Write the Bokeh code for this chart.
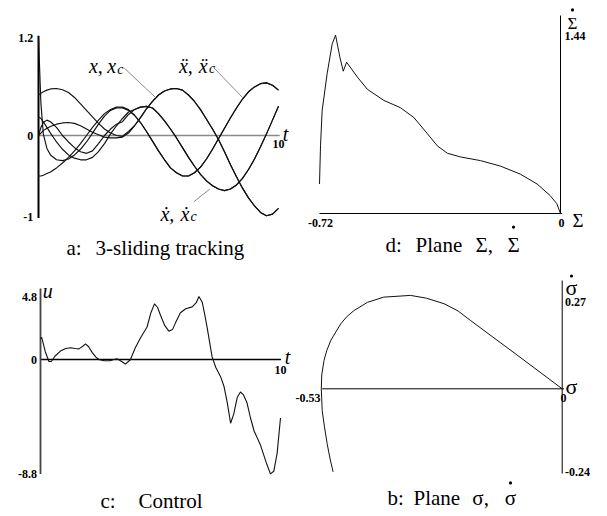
from bokeh.plotting import figure
from bokeh.models import Range1d
from bokeh.core.properties import value
from bokeh.embed import file_html
from bokeh.resources import INLINE

# ---------------- data ----------------
# panel a: 3-sliding tracking
t_a = [0, 0.1, 0.2, 0.35, 0.5, 0.75, 1.0, 1.25, 1.5, 1.75, 2.0, 2.25, 2.5, 2.75, 3.0, 3.25,
       3.5, 3.75, 4.0, 4.25, 4.5, 4.75, 5.0, 5.25, 5.5, 5.75, 6.0, 6.25, 6.5, 6.75, 7.0,
       7.25, 7.5, 7.75, 8.0, 8.25, 8.5, 8.75, 9.0, 9.25, 9.5, 9.75, 10.0]
x_c = [0.50, 0.52, 0.54, 0.56, 0.575, 0.58, 0.565, 0.53, 0.47, 0.39, 0.31, 0.23, 0.15, 0.08, 0.03, 0.00,
       -0.01, 0.05, 0.12, 0.22, 0.33, 0.42, 0.50, 0.55, 0.575, 0.58, 0.56, 0.50, 0.42, 0.32, 0.20,
       0.08, -0.05, -0.20, -0.36, -0.51, -0.65, -0.77, -0.87, -0.95, -0.99, -0.97, -0.90]
x_act = [0.00, 0.03, 0.06, 0.09, 0.11, 0.14, 0.155, 0.16, 0.15, 0.12, 0.08, 0.04, 0.01, -0.02, -0.03, -0.03,
         -0.02, 0.03, 0.12, 0.22, 0.33, 0.42, 0.50, 0.55, 0.575, 0.58, 0.56, 0.50, 0.42, 0.32, 0.20,
         0.08, -0.05, -0.20, -0.36, -0.51, -0.65, -0.77, -0.87, -0.95, -0.99, -0.97, -0.90]
xd_c = [0.23, 0.21, 0.17, 0.10, 0.03, -0.08, -0.17, -0.24, -0.28, -0.30, -0.30, -0.27, -0.20, -0.10, 0.02, 0.12,
        0.21, 0.29, 0.32, 0.35, 0.36, 0.34, 0.27, 0.18, 0.08, -0.03, -0.15, -0.27, -0.38, -0.48, -0.56,
        -0.62, -0.66, -0.68, -0.66, -0.61, -0.53, -0.42, -0.29, -0.14, 0.02, 0.19, 0.36]
xd_act = [0.00, 0.10, 0.16, 0.19, 0.17, 0.10, 0.00, -0.08, -0.15, -0.20, -0.22, -0.19, -0.10, 0.00, 0.08, 0.14,
          0.17, 0.26, 0.32, 0.35, 0.36, 0.34, 0.27, 0.18, 0.08, -0.03, -0.15, -0.27, -0.38, -0.48, -0.56,
          -0.62, -0.66, -0.68, -0.66, -0.61, -0.53, -0.42, -0.29, -0.14, 0.02, 0.19, 0.36]
xdd_c = [-0.50, -0.50, -0.49, -0.47, -0.45, -0.40, -0.34, -0.27, -0.19, -0.10, 0.00, 0.10, 0.19, 0.27, 0.32, 0.35,
         0.35, 0.32, 0.25, 0.16, 0.05, -0.07, -0.19, -0.30, -0.40, -0.46, -0.50, -0.50, -0.46, -0.39, -0.29,
         -0.17, -0.04, 0.09, 0.22, 0.34, 0.45, 0.54, 0.60, 0.64, 0.65, 0.62, 0.56]
xdd_act = [1.20, 0.40, 0.02, -0.16, -0.24, -0.30, -0.31, -0.29, -0.24, -0.17, -0.08, 0.03, 0.14, 0.24, 0.31, 0.34,
           0.34, 0.31, 0.25, 0.16, 0.05, -0.07, -0.19, -0.30, -0.40, -0.46, -0.50, -0.50, -0.46, -0.39, -0.29,
           -0.17, -0.04, 0.09, 0.22, 0.34, 0.45, 0.54, 0.60, 0.64, 0.65, 0.62, 0.56]
a_yticks = [1.2, 0, -1]
a_ylabels = ["1.2", "0", "-1"]
a_tmax = 10

# panel d: plane Sigma, Sigma-dot
sig_d = [-0.72, -0.717, -0.712, -0.697, -0.682, -0.672, -0.659, -0.649, -0.639, -0.607, -0.577, -0.528,
         -0.478, -0.438, -0.398, -0.368, -0.338, -0.299, -0.239, -0.179, -0.12, -0.07, -0.031, -0.011, 0.0]
sigdot_d = [0.24, 0.55, 0.84, 1.14, 1.38, 1.45, 1.27, 1.157, 1.23, 1.11, 1.01, 0.92,
            0.86, 0.78, 0.65, 0.55, 0.49, 0.46, 0.43, 0.385, 0.32, 0.24, 0.146, 0.08, 0.0]
d_xticks = [-0.72, 0]
d_xlabels = ["-0.72", "0"]
d_ytick = 1.44

# panel c: control
t_u = [0, 0.05, 0.2, 0.35, 0.45, 0.6, 0.83, 1.05, 1.25, 1.45,
       1.6, 1.75, 1.875, 2.0, 2.15, 2.3, 2.43, 2.65, 2.9, 3.05,
       3.2, 3.38, 3.54, 3.75, 3.95, 4.17, 4.44, 4.6, 4.75, 4.88,
       5.0, 5.18, 5.35, 5.5, 5.62, 5.83, 6.05, 6.32, 6.5, 6.6,
       6.74, 6.85, 6.95, 7.15, 7.3, 7.5, 7.65, 7.78, 7.92, 8.05,
       8.2, 8.33, 8.45, 8.6, 8.75, 8.9, 9.17, 9.4, 9.58, 9.72,
       9.86, 10.0]
u = [1.6, 1.7, 0.6, -0.15, -0.15, 0.25, 0.65, 0.85, 0.9, 0.85,
     0.82, 1.0, 1.2, 1.0, 0.55, 0.2, 0.0, -0.1, -0.1, 0.0,
     0.05, -0.15, -0.35, 0.0, 0.9, 1.67, 2.5, 3.6, 4.28, 4.0,
     3.4, 2.6, 2.18, 2.3, 2.8, 3.6, 3.9, 4.05, 4.4, 4.85,
     4.4, 3.4, 2.4, 0.2, -0.6, -1.3, -2.1, -3.3, -4.9, -4.2,
     -2.9, -2.5, -2.7, -3.3, -4.5, -5.5, -6.6, -7.9, -8.8, -8.6,
     -7.2, -4.5]
c_yticks = [4.8, 0, -8.8]
c_ylabels = ["4.8", "0", "-8.8"]

# panel b: plane sigma, sigma-dot
sig_b = [0.0, -0.1, -0.202, -0.23, -0.261, -0.3, -0.335, -0.394, -0.43, -0.46, -0.476, -0.489,
         -0.511, -0.52, -0.526, -0.531, -0.532, -0.531, -0.53, -0.525, -0.519, -0.513, -0.506]
sigdot_b = [0.0, 0.098, 0.197, 0.225, 0.246, 0.262, 0.27, 0.265, 0.25, 0.226, 0.208, 0.188,
            0.14, 0.11, 0.082, 0.04, 0.0, -0.03, -0.063, -0.11, -0.159, -0.2, -0.24]
b_xtick = -0.53
b_yticks = [0.27, -0.24]
b_ylabels = ["0.27", "-0.24"]

# ---------------- layout ----------------
W, H = 600, 512
FONT = "Liberation Serif"
INK = "#111111"
GREY = "#8a8a8a"


def xspan(v0, p0, v1, p1):
    k = (v1 - v0) / (p1 - p0)
    return Range1d(v0 - p0 * k, v0 + (W - p0) * k)


def yspan(v0, p0, v1, p1):
    k = (v1 - v0) / (p1 - p0)
    return Range1d(v0 + (H - p0) * k, v0 - p0 * k)


p = figure(width=W, height=H, x_range=xspan(0, 38, 10, 278), y_range=yspan(0, 135, 1.2, 37.8),
           toolbar_location=None, tools="", output_backend="svg",
           x_axis_type=None, y_axis_type=None, min_border=0)
p.outline_line_color = None
p.background_fill_color = "white"
p.border_fill_color = "white"
p.extra_x_ranges = {"d": xspan(-0.72, 319, 0, 560),
                    "c": xspan(0, 40, 10, 280),
                    "b": xspan(-0.53, 321.7, 0, 561.7)}
p.extra_y_ranges = {"d": yspan(0, 213, 1.44, 35.9),
                    "c": yspan(0, 359, 4.8, 296.6),
                    "b": yspan(0, 388.3, 0.27, 294.9)}


def R(panel):
    if panel == "a":
        return {}
    return {"x_range_name": panel, "y_range_name": panel}


def line(panel, xs, ys, color=INK, width=1.0):
    p.line(xs, ys, line_color=color, line_width=width, **R(panel))


def txt(panel, x, y, s, size, style="normal", align="left", baseline="alphabetic"):
    p.text(x=[x], y=[y], text=[s], text_font=value(FONT), text_font_size=size,
           text_font_style=style, text_align=align, text_baseline=baseline,
           text_color="black", **R(panel))


def dot(panel, x, y, size=3.2):
    p.scatter(x=[x], y=[y], size=size, marker="circle", color="black", line_width=0, **R(panel))


# ---------------- panel a ----------------
line("a", [0, a_tmax + 0.05], [0, 0], GREY, 1.6)
line("a", [0, 0], [min(a_yticks) - 0.02, max(a_yticks) + 0.03], "black", 2)
for ys in (x_c, x_act, xd_c, xd_act, xdd_c, xdd_act):
    line("a", t_a, ys, INK, 1.15)
for yv, lab in zip(a_yticks, a_ylabels):
    txt("a", -0.22, yv, lab, "12px", "bold", "right", "middle")
txt("a", a_tmax, -0.11, "10", "12px", "bold", "center", "middle")
txt("a", 10.29, 0.02, "t", "20px", "italic", "center")
line("a", [3.58, 4.875], [0.83, 0.47], GREY, 1)
txt("a", 2.1, 0.852, "x,", "20px", "italic")
txt("a", 2.86, 0.852, "x", "20px", "italic")
txt("a", 3.28, 0.815, "c", "14px", "italic")
line("a", [7.29, 8.5], [0.84, 0.47], GREY, 1)
txt("a", 5.85, 0.864, "\u1e8d,", "20px", "italic")
txt("a", 6.68, 0.864, "\u1e8d", "20px", "italic")
txt("a", 7.1, 0.827, "c", "14px", "italic")
line("a", [6.47, 7.14], [-0.82, -0.66], GREY, 1)
txt("a", 5.08, -0.963, "\u1e8b,", "20px", "italic")
txt("a", 5.92, -0.963, "\u1e8b", "20px", "italic")
txt("a", 6.33, -0.994, "c", "14px", "italic")
txt("a", 1.167, -1.395, "a:", "21px")
txt("a", 2.375, -1.395, "3-sliding tracking", "21px")

# ---------------- panel d ----------------
line("d", [min(d_xticks), max(d_xticks) + 0.005], [0, 0], "black", 1)
line("d", [0, 0], [0, 1.61], "black", 1)
line("d", sig_d, sigdot_d, INK, 1)
for xv, lab in zip(d_xticks, d_xlabels):
    txt("d", xv + 0.003, -0.075, lab, "12px", "bold", "center", "middle")
txt("d", 0.012, d_ytick, "1.44", "12px", "bold", "left", "middle")
txt("d", 0.036, -0.057, "\u03a3", "19px")
txt("d", 0.0359, 1.545, "\u03a3", "17px", align="center")
dot("d", 0.0359, 1.655)
txt("d", -0.523, -0.26, "d:", "21px")
txt("d", -0.433, -0.26, "Plane", "21px")
txt("d", -0.254, -0.26, "\u03a3,", "21px")
txt("d", -0.1404, -0.26, "\u03a3", "21px", align="center")
dot("d", -0.1404, -0.11)

# ---------------- panel c ----------------
line("c", [0, 10.02], [0, 0], "black", 1.5)
line("c", [0, 0], [min(c_yticks), 5.46], "#444444", 1.8)
line("c", t_u, u, INK, 1.1)
for yv, lab in zip(c_yticks, c_ylabels):
    txt("c", -0.15, yv, lab, "12px", "bold", "right", "middle")
txt("c", 10.0, -0.77, "10", "12px", "bold", "center", "middle")
txt("c", 10.29, 0.23, "t", "20px", "italic", "center")
txt("c", 0.09, 5.3, "u", "20px", "italic")
txt("c", 2.5, -10.85, "c:", "21px")
txt("c", 4.083, -10.85, "Control", "21px")

# ---------------- panel b ----------------
line("b", [b_xtick, 0.004], [0, 0], "black", 1)
line("b", [0, 0], [min(b_yticks) - 0.005, 0.313], "black", 1)
line("b", sig_b, sigdot_b, INK, 1)
txt("b", b_xtick - 0.004, -0.028, "-0.53", "12px", "bold", "right", "middle")
txt("b", 0.003, -0.028, "0", "12px", "bold", "center", "middle")
for yv, lab in zip(b_yticks, b_ylabels):
    txt("b", 0.006, yv - 0.02 if yv > 0 else yv, lab, "12px", "bold", "left", "middle")
txt("b", 0.0205, 0.006, "\u03c3", "22px", align="center")
txt("b", 0.0205, 0.293, "\u03c3", "22px", align="center")
dot("b", 0.0205, 0.326)
txt("b", -0.3858, -0.317, "b:", "21px")
txt("b", -0.3284, -0.317, "Plane", "21px")
txt("b", -0.1985, -0.317, "\u03c3,", "21px")
txt("b", -0.1142, -0.317, "\u03c3", "21px", align="center")
dot("b", -0.1142, -0.272)

open("out.html", "w").write(file_html(p, INLINE))
